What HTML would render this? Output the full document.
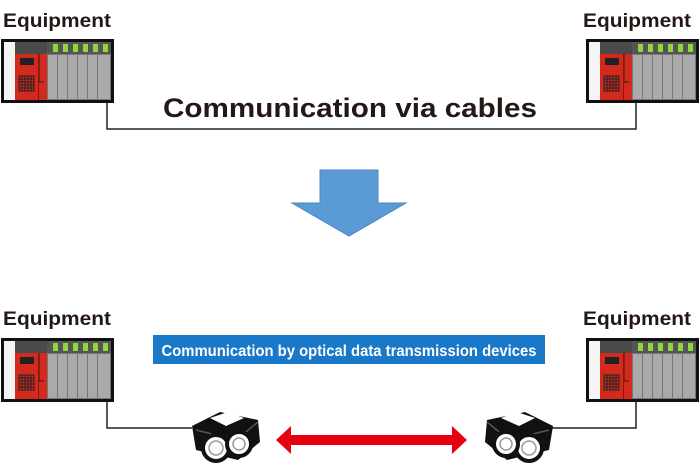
<!DOCTYPE html>
<html><head><meta charset="utf-8"><style>
body{margin:0;background:#fff}
svg text{font-family:"Liberation Sans",Arial,sans-serif}
</style></head><body>
<svg width="700" height="465" viewBox="0 0 700 465" xmlns="http://www.w3.org/2000/svg">
<defs>
<g id="plc">
  <rect x="0" y="0" width="113" height="64" fill="#111"/>
  <rect x="3" y="3" width="11" height="58" fill="#f4f4f4"/>
  <rect x="14" y="3" width="32" height="12" fill="#4a4a4a"/>
  <rect x="46" y="3" width="64" height="12" fill="#555"/>
  <rect x="14" y="15" width="32" height="46" fill="#d42a1e"/>
  <rect x="19" y="19" width="14" height="7" fill="#222"/>
  <g fill="none" stroke="#222" stroke-width="1">
    <rect x="18" y="37" width="15" height="15"/>
    <path d="M18 40h15M18 43h15M18 46h15M18 49h15M21 37v15M24 37v15M27 37v15M30 37v15"/>
    <path d="M38 15v28h5"/>
  </g>
  <rect x="37" y="15" width="1" height="46" fill="#8b1510"/>
  <g fill="#aaa" stroke="#777" stroke-width="1">
    <rect x="46.5" y="15.5" width="10" height="45"/>
    <rect x="56.5" y="15.5" width="10" height="45"/>
    <rect x="66.5" y="15.5" width="10" height="45"/>
    <rect x="76.5" y="15.5" width="10" height="45"/>
    <rect x="86.5" y="15.5" width="10" height="45"/>
    <rect x="96.5" y="15.5" width="13" height="45"/>
  </g>
  <g fill="#8fd63a">
    <rect x="52" y="5" width="5" height="8"/><rect x="62" y="5" width="5" height="8"/>
    <rect x="72" y="5" width="5" height="8"/><rect x="82" y="5" width="5" height="8"/>
    <rect x="92" y="5" width="5" height="8"/><rect x="102" y="5" width="5" height="8"/>
  </g>
</g>
<g id="dev">
  <path d="M4 16 L32 2 L70 10 L72 32 L50 50 L8 40 Z" fill="#111"/>
  <path d="M22 8 L40 2 L56 8 L38 16 Z" fill="#fff"/>
  <path d="M8 20 L48 30 L70 12" fill="none" stroke="#555" stroke-width="1.5"/>
  <circle cx="28" cy="38" r="13" fill="#fff" stroke="#111" stroke-width="4"/>
  <circle cx="28" cy="38" r="7" fill="none" stroke="#999" stroke-width="1.5"/>
  <circle cx="51" cy="34" r="12" fill="#fff" stroke="#111" stroke-width="4"/>
  <circle cx="51" cy="34" r="6" fill="none" stroke="#999" stroke-width="1.5"/>
</g>
</defs>

<text x="3" y="27" font-size="19" font-weight="bold" fill="#231815" textLength="108" lengthAdjust="spacingAndGlyphs">Equipment</text>
<text x="583" y="27" font-size="19" font-weight="bold" fill="#231815" textLength="108" lengthAdjust="spacingAndGlyphs">Equipment</text>
<use href="#plc" x="1" y="39"/>
<use href="#plc" x="586" y="39"/>
<path d="M107 103 V129 H636 V103" fill="none" stroke="#222" stroke-width="1.5"/>
<text x="163" y="117" font-size="27" font-weight="bold" fill="#231815" textLength="374" lengthAdjust="spacingAndGlyphs">Communication via cables</text>

<path d="M320 170 H378 V203 H406 L349 236 L292 203 H320 Z" fill="#5b9bd5" stroke="#4a86c0" stroke-width="1"/>

<text x="3" y="325" font-size="19" font-weight="bold" fill="#231815" textLength="108" lengthAdjust="spacingAndGlyphs">Equipment</text>
<text x="583" y="325" font-size="19" font-weight="bold" fill="#231815" textLength="108" lengthAdjust="spacingAndGlyphs">Equipment</text>
<rect x="153" y="335" width="392" height="29" fill="#1a78c8"/>
<text x="349" y="356" font-size="16" font-weight="bold" fill="#fff" text-anchor="middle" textLength="375" lengthAdjust="spacingAndGlyphs">Communication by optical data transmission devices</text>
<use href="#plc" x="1" y="338"/>
<use href="#plc" x="586" y="338"/>
<path d="M107 402 V428 H192" fill="none" stroke="#222" stroke-width="1.5"/>
<path d="M636 402 V428 H552" fill="none" stroke="#222" stroke-width="1.5"/>
<use href="#dev" x="188" y="410"/>
<g transform="translate(557 410) scale(-1 1)"><use href="#dev" x="0" y="0"/></g>
<path d="M276 440 L291 426 V435 H452 V426 L467 440 L452 454 V445 H291 V454 Z" fill="#e60012"/>
</svg>
</body></html>
